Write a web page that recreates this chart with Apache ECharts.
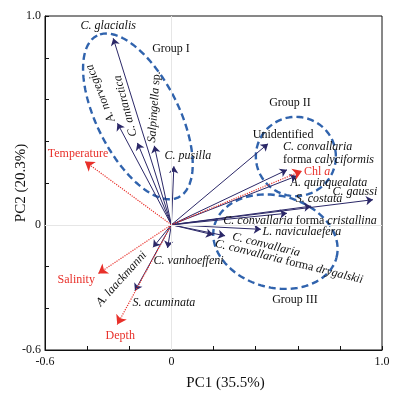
<!DOCTYPE html>
<html><head><meta charset="utf-8">
<script src="https://cdn.jsdelivr.net/npm/echarts@6/dist/echarts.min.js"></script>
<style>html,body{margin:0;padding:0;background:#fff}#c{width:399px;height:395px}</style>
</head><body><div id="c"></div>
<script>
// ---- data ----
const species = ['C. glacialis','A. norvegica','C. antarctica','Salpingella sp.','C. pusilla','Unidentified',
  'C. convallaria\nforma calyciformis','A. quinquealata','C. gaussi','S. costata','C. convallaria forma cristallina',
  'L. naviculaefera','C. convallaria','C. convallaria forma drygalskii','C. vanhoeffeni','A. laackmanni','S. acuminata'];
const speciesPC1 = [-0.276,-0.256,-0.161,-0.081,0.012,0.459,0.549,0.596,0.957,0.663,0.549,0.425,0.255,0.198,-0.018,-0.087,-0.173];
const speciesPC2 = [0.893,0.486,0.392,0.378,0.280,0.388,0.263,0.234,0.120,0.089,0.055,-0.022,-0.053,-0.048,-0.111,-0.108,-0.316];
const envVars = ['Temperature','Salinity','Depth','Chl a'];
const envPC1 = [-0.410,-0.347,-0.257,0.620];
const envPC2 = [0.303,-0.234,-0.478,0.258];
const groups = ['Group I','Group II','Group III'];
const xTickValues = [-0.6, 0, 1.0];
const xTickLabels = ['-0.6','0','1.0'];
const yTickValues = [-0.6, 0, 1.0];
const yTickLabels = ['-0.6','0','1.0'];

// ---- layout (label offsets in px from arrow tips: dx, dy, rotation deg, align) ----
const speciesLabelLayout = [
  [-5,-12,0,'center'],[-17,-30,112,'center'],[-12,-37,105,'center'],[0,-39,86,'center'],[14,-10,0,'center'],
  [15,-9,0,'center'],[-4,-17,0,'left'],[32,7,0,'center'],[-18,-8,0,'center'],[8,-7,0,'center'],
  [13,8,0,'center'],[41,3,0,'center'],[41,9,-14,'center'],[76,27,-14,'center'],[21,13,0,'center'],
  [-31.5,31.5,48,'center'],[29,12.5,0,'center']];
const envLabelLayout = [[-7,-8,0,'center'],[-22,6,0,'center'],[3,11,0,'center'],[2,1,0,'left']];
// ellipse shapes in data units: cx, cy, a, b, angle(deg)
const groupEllipses = [[-0.159,0.519,0.433,0.195,116.5],[0.591,0.327,0.19,0.19,0],[0.494,-0.081,0.30,0.22,-15]];
const groupLabelPos = [[171,49],[290,103],[295,300]];

const FONT = 'Liberation Serif';
const NAVY = '#2b2868', RED = '#e8302a', BLUE = '#3063ad';

function ellipsePts(e){
  const [cx,cy,a,b,ang]=e, t=ang*Math.PI/180, pts=[];
  for(let k=0;k<=160;k++){const u=k/160*2*Math.PI;
    pts.push([cx+a*Math.cos(u)*Math.cos(t)-b*Math.sin(u)*Math.sin(t), cy+a*Math.cos(u)*Math.sin(t)+b*Math.sin(u)*Math.cos(t)]);}
  return pts;
}
function tickFmt(vals, labs){return v=>{for(let i=0;i<vals.length;i++) if(Math.abs(v-vals[i])<1e-6) return labs[i]; return '';};}
function speciesRich(name){
  const plain = new Set(['forma','sp.','Unidentified']);
  return name.split('\n').map(line=>{
    const w=line.split(' '); let out='', cur=null, buf=[];
    const flush=()=>{if(buf.length) out+='{'+cur+'|'+buf.join(' ')+'}'; buf=[];};
    w.forEach((word,i)=>{const st=plain.has(word)?'n':'i'; if(st!==cur){ if(buf.length){buf[buf.length-1]+=' ';} flush(); cur=st;} buf.push(word);});
    flush(); return out;
  }).join('\n');
}
function envRich(name){ if(name==='Chl a') return '{r|Chl }{ri|a}'; return '{r|'+name+'}'; }
const richStyles = {
  i:{fontFamily:FONT,fontSize:12,fontStyle:'italic',fill:'#111',lineHeight:13},
  n:{fontFamily:FONT,fontSize:12,fill:'#111',lineHeight:13},
  r:{fontFamily:FONT,fontSize:12,fill:RED,lineHeight:13},
  ri:{fontFamily:FONT,fontSize:12,fontStyle:'italic',fill:RED,lineHeight:13}
};

const chart = echarts.init(document.getElementById('c'), null, {renderer:'canvas'});
const series = [];
series.push({type:'line', data:[], silent:true, z:1,
  markLine:{silent:true, symbol:'none', label:{show:false}, lineStyle:{color:'#e6e6e6', type:'solid', width:1},
    data:[{xAxis:0},{yAxis:0}]}});
groupEllipses.forEach(e=>series.push({type:'line', data:ellipsePts(e), showSymbol:false, symbol:'none', silent:true, z:2,
  lineStyle:{color:BLUE, width:2.4, type:[7,4]}}));
series.push({type:'lines', coordinateSystem:'cartesian2d', z:3, silent:true,
  data: species.map((n,i)=>({coords:[[0,0],[speciesPC1[i],speciesPC2[i]]]})),
  symbol:['none','arrow'], symbolSize:[0,7], lineStyle:{color:NAVY, width:1, opacity:1}});
series.push({type:'lines', coordinateSystem:'cartesian2d', z:4, silent:true,
  data: envVars.map((n,i)=>({coords:[[0,0],[envPC1[i],envPC2[i]]]})),
  symbol:['none','arrow'], symbolSize:[0,9], lineStyle:{color:RED, width:1.2, type:'dotted', opacity:1}});

const axisName = {fontFamily:FONT, fontSize:15, color:'#111'};
chart.setOption({
  animation:false, backgroundColor:'#fff',
  grid:{left:45, top:16, width:337, height:334, containLabel:false, outerBoundsMode:'none', show:true, borderColor:'#111', borderWidth:1, backgroundColor:'transparent'},
  xAxis:{type:'value', min:-0.6, max:1.0, interval:0.2, nameMoveOverlap:false,
    axisLine:{onZero:false, lineStyle:{color:'#111'}}, axisTick:{inside:true, length:4, lineStyle:{color:'#111'}},
    axisLabel:{formatter:tickFmt(xTickValues,xTickLabels), color:'#111', fontFamily:FONT, fontSize:12, margin:6, showMinLabel:true, showMaxLabel:true},
    splitLine:{show:false}, name:'PC1 (35.5%)', nameLocation:'middle', nameGap:26, nameTextStyle:Object.assign({padding:[0,0,0,24]},axisName)},
  yAxis:{type:'value', min:-0.6, max:1.0, interval:0.2, nameMoveOverlap:false,
    axisLine:{onZero:false, lineStyle:{color:'#111'}}, axisTick:{inside:true, length:4, lineStyle:{color:'#111'}},
    axisLabel:{formatter:tickFmt(yTickValues,yTickLabels), color:'#111', fontFamily:FONT, fontSize:12, margin:4, showMinLabel:true, showMaxLabel:true},
    splitLine:{show:false}, name:'PC2 (20.3%)', nameLocation:'middle', nameGap:16, nameTextStyle:axisName},
  series: series
});

const graphic = [];
function addLabel(x,y,lay,text){
  const p = chart.convertToPixel({gridIndex:0},[x,y]);
  graphic.push({type:'text', x:p[0]+lay[0], y:p[1]+lay[1], rotation:lay[2]*Math.PI/180, z:10, silent:true,
    style:{text:text, rich:richStyles, align:lay[3], verticalAlign:'middle', font:'12px '+FONT}});
}
species.forEach((n,i)=>addLabel(speciesPC1[i],speciesPC2[i],speciesLabelLayout[i],speciesRich(n)));
envVars.forEach((n,i)=>addLabel(envPC1[i],envPC2[i],envLabelLayout[i],envRich(n)));
groups.forEach((g,i)=>graphic.push({type:'text', x:groupLabelPos[i][0], y:groupLabelPos[i][1], z:10, silent:true,
  style:{text:g, font:'12px '+FONT, fill:'#111', align:'center', verticalAlign:'middle'}}));
chart.setOption({graphic:graphic});
</script></body></html>
